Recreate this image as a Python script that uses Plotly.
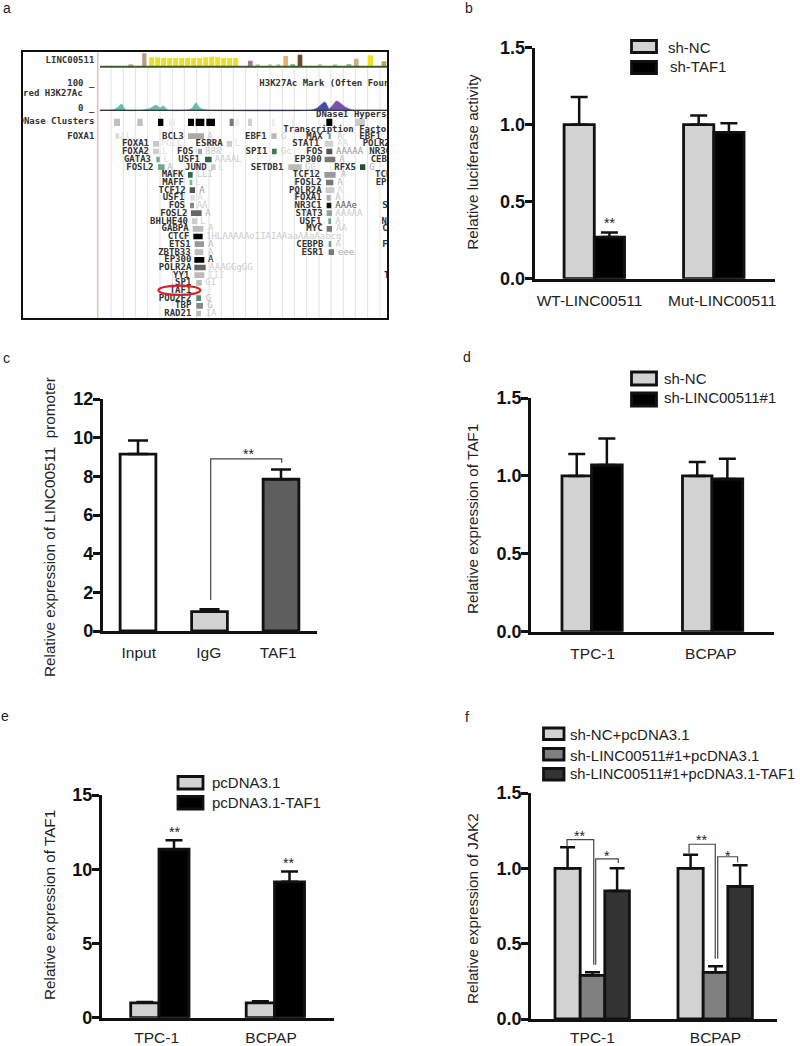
import plotly.graph_objects as go

W, H = 800, 1046
INK = "#111111"
SANS = "Liberation Sans"
MONO = "DejaVu Sans Mono"
LIGHT, BLACK, MID, DARK, GREY = "#d2d2d2", "#000000", "#808080", "#333333", "#5e5e5e"

# ---------- bar panel data ----------
b_groups = ["WT-LINC00511", "Mut-LINC00511"]
b_nc, b_nc_err = [1.0, 1.0], [0.18, 0.06]
b_taf, b_taf_err = [0.27, 0.95], [0.03, 0.06]

c_groups = ["Input", "IgG", "TAF1"]
c_vals, c_err = [9.15, 1.0, 7.85], [0.7, 0.12, 0.5]

d_groups = ["TPC-1", "BCPAP"]
d_nc, d_nc_err = [1.0, 1.0], [0.14, 0.09]
d_sh, d_sh_err = [1.07, 0.98], [0.17, 0.13]

e_groups = ["TPC-1", "BCPAP"]
e_pc, e_pc_err = [1.0, 1.0], [0.05, 0.1]
e_taf, e_taf_err = [11.35, 9.15], [0.6, 0.7]

f_groups = ["TPC-1", "BCPAP"]
f_a, f_a_err = [1.0, 1.0], [0.14, 0.09]
f_b, f_b_err = [0.29, 0.31], [0.02, 0.04]
f_c, f_c_err = [0.85, 0.88], [0.15, 0.14]

# significance brackets (x in group units, y in axis units)
c_br_x, c_br_y = [1.017, 1.017, 2.01, 2.01], [1.6, 8.9, 8.9, 8.7]
f_br1_x, f_br1_y = [-0.207, -0.207, 0.01, 0.01], [1.145, 1.19, 1.19, 0.36]
f_br2_x, f_br2_y = [0.026, 0.026, 0.21, 0.21], [0.36, 1.063, 1.063, 1.035]
f_br3_x, f_br3_y = [0.785, 0.785, 0.998, 0.998], [1.10, 1.16, 1.16, 0.40]
f_br4_x, f_br4_y = [1.018, 1.018, 1.18, 1.18], [0.40, 1.077, 1.077, 1.04]

# ---------- genome browser panel data (axis spans the frame, units of 1/3 pixel) ----------
grid_x = [333, 370, 406, 443, 480, 517, 553, 590, 627, 664, 700, 737, 773, 810, 847, 883, 920, 957, 993, 1030, 1066, 1103, 1140]

cons_x = [392, 433, 455, 473, 491, 509, 527, 545, 563, 581, 599, 617, 635, 653, 671, 689, 707, 751, 773, 810, 835, 857, 878, 900, 960, 1005, 1047, 1069, 1111, 1152]
cons_h = [4, 38, 26, 26, 24, 24, 24, 24, 24, 24, 24, 26, 28, 26, 24, 24, 24, 16, 5, 3, 5, 30, 5, 34, 4, 5, 6, 22, 32, 14]
cons_w = [14, 13, 15, 15, 15, 15, 15, 15, 15, 15, 15, 15, 15, 15, 15, 15, 15, 14, 12, 10, 12, 14, 14, 14, 12, 12, 14, 14, 16, 14]
cons_c = ["#c9a98a", "#b8a080", "#e8e02a", "#e8e02a", "#e8e02a", "#e8e02a", "#e8e02a", "#e8e02a", "#e8e02a", "#e8e02a", "#e8e02a", "#e8e02a", "#e8e02a", "#e8e02a", "#e8e02a", "#e8e02a", "#e8e02a", "#a9749a", "#a8d0a8", "#a8d0a8", "#a8d0a8", "#e8b070", "#7ab07a", "#6b4a32", "#a8d0a8", "#a8d0a8", "#90c090", "#c8b080", "#f0e020", "#c8a050"]

peak_x = [300, 340, 352, 365, 378, 420, 450, 468, 480, 490, 505, 560, 575, 588, 600, 625, 930, 950, 975, 990, 1010, 1035, 1060, 1100, 1162]
peak_teal = [331, 329, 323, 312, 331, 331, 325, 315, 323, 318, 331, 331, 325, 308, 324, 331, 331, 331, 331, 331, 331, 331, 331, 331, 331]
peak_blue = [331, 331, 331, 331, 331, 331, 331, 331, 331, 331, 331, 331, 331, 331, 331, 331, 331, 325, 306, 331, 331, 331, 331, 331, 331]
peak_purple = [331, 331, 331, 331, 331, 331, 331, 331, 331, 331, 331, 331, 331, 331, 331, 331, 331, 331, 331, 325, 303, 320, 331, 331, 331]

dnase_x = [351, 420, 482, 516, 573, 600, 632, 695, 712, 750, 820, 880, 988, 1080]
dnase_w = [18, 16, 16, 18, 18, 26, 26, 12, 12, 12, 8, 8, 18, 30]
dnase_c = ["#c0c0c0", "#c0c0c0", "#000000", "#eeeeee", "#000000", "#000000", "#000000", "#777777", "#eeeeee", "#d0d0d0", "#eeeeee", "#eeeeee", "#000000", "#cccccc"]

tf_names = ["FOXA1", "FOXA1", "FOXA2", "GATA3", "FOSL2", "BCL3", "FOS", "USF1", "JUND", "ESRRA", "MAFK", "MAFF", "TCF12", "USF1", "FOS", "FOSL2", "BHLHE40", "GABPA", "CTCF", "ETS1", "ZBTB33", "EP300", "POLR2A", "YY1", "SP1", "TAF1", "POU2F2", "TBP", "RAD21", "EBF1", "SPI1", "SETDB1", "MAX", "STAT1", "FOS", "EP300", "RFX5", "TCF12", "FOSL2", "POLR2A", "FOXA1", "NR3C1", "STAT3", "USF1", "MYC", "CEBPB", "ESR1", "EBF1"]
tf_right = [283, 447, 447, 453, 460, 551, 580, 600, 620, 668, 550, 552, 557, 553, 555, 562, 564, 566, 568, 572, 572, 574, 574, 568, 574, 574, 574, 574, 574, 800, 802, 850, 968, 958, 968, 965, 1068, 960, 965, 965, 965, 965, 968, 964, 968, 970, 970, 1143]
tf_row = [409, 432, 455, 479, 502, 409, 455, 479, 502, 432, 525, 548, 571, 594, 617, 640, 664, 687, 710, 733, 757, 780, 803, 826, 849, 872, 895, 918, 941, 409, 455, 502, 409, 432, 455, 479, 502, 525, 548, 571, 594, 617, 640, 664, 687, 733, 757, 409]
box_x = [352, 468, 468, 474, 484, 588, 600, 625, 640, 688, 571, 573, 577, 578, 576, 589, 584, 594, 594, 598, 597, 598, 600, 598, 597, 600, 596, 599, 596, 822, 823, 885, 989, 987, 988, 990, 1088, 990, 989, 990, 986, 987, 988, 989, 988, 990, 994, 1160]
box_w = [12, 18, 18, 10, 20, 48, 12, 20, 14, 16, 14, 8, 16, 14, 12, 32, 16, 32, 28, 28, 26, 30, 34, 30, 16, 10, 14, 20, 14, 16, 14, 40, 6, 26, 18, 32, 16, 34, 22, 26, 12, 14, 16, 8, 16, 8, 16, 1]
box_c = ["#dddddd", "#c8c8c8", "#cfcfcf", "#6fa890", "#6fa890", "#aaaaaa", "#aaaaaa", "#33604a", "#cccccc", "#cccccc", "#2f6a4a", "#6fc090", "#555555", "#e0e0e0", "#888888", "#666666", "#cccccc", "#bbbbbb", "#000000", "#999999", "#bbbbbb", "#000000", "#666666", "#bbbbbb", "#bbbbbb", "#eeeeee", "#4f9070", "#888888", "#bbbbbb", "#bbbbbb", "#3a7a5a", "#bbbbbb", "#5fa880", "#d0d0d0", "#555555", "#777777", "#264f3a", "#999999", "#777777", "#cccccc", "#aaaaaa", "#111111", "#8aa898", "#5fa880", "#777777", "#5fa880", "#777777", "#ffffff"]

tail_text = ["LL", "FGLL", "L", "L", "A", "A", "888", "AAAAL", "L", "L", "LLI", "L", "A", "A", "AA", "A", "L", "A", "1HLAAAAAoIIAIAAaaAAaAabcg", "A", "A", "A", "AAAGGgGG", "III", "GI", "I", "G", "G", "IA", "G", "Gc", "GG", "A", "AA", "AAAAA", "A", "G", "A", "A", "A", "A", "AAAe", "AAAAA", "A", "AA", "A", "eee"]
tail_x = [362, 482, 486, 490, 502, 622, 615, 644, 655, 704, 590, 586, 598, 592, 590, 616, 600, 624, 618, 624, 624, 624, 628, 624, 616, 622, 617, 622, 617, 842, 842, 915, 1012, 1012, 1008, 1018, 1108, 1022, 1012, 1012, 1006, 1006, 1006, 1006, 1008, 1006, 1014]
tail_c = ["#dddddd", "#dddddd", "#dddddd", "#dddddd", "#bbbbbb", "#cccccc", "#cccccc", "#cccccc", "#dddddd", "#dddddd", "#cccccc", "#dddddd", "#999999", "#dddddd", "#cccccc", "#bbbbbb", "#cccccc", "#cccccc", "#cccccc", "#bbbbbb", "#cccccc", "#111111", "#cccccc", "#dddddd", "#cccccc", "#eeeeee", "#bbbbbb", "#bbbbbb", "#cccccc", "#cccccc", "#cccccc", "#cccccc", "#cccccc", "#dddddd", "#999999", "#bbbbbb", "#aaaaaa", "#bbbbbb", "#bbbbbb", "#dddddd", "#bbbbbb", "#555555", "#cccccc", "#cccccc", "#cccccc", "#cccccc", "#aaaaaa"]

right_names = ["POLR2A", "NR3C1", "CEBPB", "TCF12", "EP300", "STAT3", "NFYB", "CTCF", "FOSL2", "TBP"]
right_x = [1088, 1108, 1112, 1125, 1127, 1147, 1145, 1147, 1147, 1152]
right_row = [432, 455, 479, 525, 548, 617, 664, 687, 733, 826]

head_left = ["Layered H3K27Ac", "DNase Clusters", "LINC00511", "100 _", "0 _"]
head_left_x = [248, 283, 283, 283, 283]
head_left_y = [282, 366, 181, 252, 325]
head_right = ["H3K27Ac Mark (Often Found", "DNaseI Hypersensitivity", "Transcription Factor"]
head_right_x = [778, 948, 850]
head_right_y = [252, 345, 389]

fig = go.Figure()
shapes, annos = [], []


def px(x):
    return x / W


def py(y):
    return 1 - y / H


def panel(idx, x0, x1, ytop, y0, ymax, dtick, c0, sp, tick_pos, tick_text, standoff=6):
    sfx = str(idx)
    lo, hi = (x0 - c0) / sp, (x1 - c0) / sp
    fig.layout[f"xaxis{sfx}"] = dict(
        domain=[px(x0), px(x1)], range=[lo, hi], anchor=f"y{sfx}", showline=True, linecolor=INK, linewidth=2.5,
        showgrid=False, zeroline=False, ticks="", tickmode="array", tickvals=tick_pos, ticktext=tick_text,
        tickfont=dict(family=SANS, size=15.5, color="#222222"), ticklabelstandoff=standoff)
    fig.layout[f"yaxis{sfx}"] = dict(
        domain=[py(y0), py(ytop)], range=[0, ymax], anchor=f"x{sfx}", showline=True, linecolor=INK, linewidth=2.5,
        showgrid=False, zeroline=False, ticks="outside", ticklen=7, tickwidth=2.5, tickcolor=INK, dtick=dtick,
        tickformat=".1f" if dtick < 1 else "d",
        tickfont=dict(family=SANS, size=18, color=INK, weight="bold"), ticklabelstandoff=-4)


def bars(idx, xs, ys, errs, color, width, offset, cap=8.5):
    fig.add_trace(go.Bar(
        x=xs, y=ys, width=width, offset=offset, marker=dict(color=color, line=dict(color=INK, width=2.8)),
        error_y=dict(type="data", array=errs, arrayminus=[0] * len(errs), symmetric=False, color=INK, thickness=2.5, width=cap),
        xaxis=f"x{idx}", yaxis=f"y{idx}", showlegend=False, hoverinfo="skip"))


def bracket(idx, xs, ys):
    fig.add_trace(go.Scatter(x=xs, y=ys, mode="lines", line=dict(color="#444444", width=1.2),
                             xaxis=f"x{idx}", yaxis=f"y{idx}", showlegend=False, hoverinfo="skip"))


def ytitle(text, x, y, size=15.25):
    annos.append(dict(text=text, x=px(x), y=py(y), xref="paper", yref="paper", textangle=-90, showarrow=False,
                      xanchor="center", yanchor="middle", font=dict(family=SANS, size=size, color="#222222")))


def label(text, x, y, size=15, anchor="left", color="#222222"):
    annos.append(dict(text=text, x=px(x), y=py(y), xref="paper", yref="paper", showarrow=False, xanchor=anchor,
                      yanchor="middle", font=dict(family=SANS, size=size, color=color)))


def stars(text, x, y):
    label(text, x, y + 3, size=14, anchor="center", color="#222222")


def swatch(x0, x1, y0, y1, color):
    shapes.append(dict(type="rect", xref="paper", yref="paper", x0=px(x0), x1=px(x1), y0=py(y0), y1=py(y1),
                       fillcolor=color, line=dict(color=INK, width=2.8)))


# Panel a: genome browser
fig.layout["xaxis1"] = dict(domain=[px(22.7), px(387.3)], range=[68, 1162], anchor="y1", showgrid=False, zeroline=False,
                            showticklabels=False, ticks="", showline=True, mirror=True, linecolor="#111111", linewidth=1.5)
fig.layout["yaxis1"] = dict(domain=[py(318.3), py(52.3)], range=[955, 157], anchor="x1", showgrid=False, zeroline=False,
                            showticklabels=False, ticks="", showline=True, mirror=True, linecolor="#111111", linewidth=1.5)

for gx in grid_x:
    shapes.append(dict(type="line", xref="x1", yref="y1", x0=gx, x1=gx, y0=205, y1=955, line=dict(color="#e2e2e2", width=1), layer="below"))
shapes.append(dict(type="line", xref="x1", yref="y1", x0=293, x1=293, y0=157, y1=955, line=dict(color="#f2b8b8", width=1.5), layer="below"))

fig.add_trace(go.Bar(x=cons_x, y=[-h for h in cons_h], base=198, width=cons_w, marker=dict(color=cons_c, line=dict(width=0)),
                     xaxis="x1", yaxis="y1", showlegend=False, hoverinfo="skip"))
fig.add_trace(go.Scatter(x=[300, 1162], y=[200, 200], mode="lines", line=dict(color="#3d5a2a", width=2),
                         xaxis="x1", yaxis="y1", showlegend=False, hoverinfo="skip"))
for series, col in ((peak_teal, "#69c0aa"), (peak_blue, "#3f4fa8"), (peak_purple, "#7a50b0")):
    fig.add_trace(go.Scatter(x=peak_x, y=series, mode="lines", fill="toself", fillcolor=col,
                             line=dict(color=col, width=0.5, shape="spline", smoothing=0.6),
                             xaxis="x1", yaxis="y1", showlegend=False, hoverinfo="skip"))
fig.add_trace(go.Scatter(x=[300, 1162], y=[331, 331], mode="lines", line=dict(color="#222222", width=1),
                         xaxis="x1", yaxis="y1", showlegend=False, hoverinfo="skip"))
fig.add_trace(go.Bar(x=dnase_x, y=[-22] * len(dnase_x), base=378, width=dnase_w, marker=dict(color=dnase_c, line=dict(width=0)),
                     xaxis="x1", yaxis="y1", showlegend=False, hoverinfo="skip"))
fig.add_trace(go.Bar(x=box_x, y=[-17] * len(box_x), base=[r + 8 for r in tf_row], width=box_w, marker=dict(color=box_c, line=dict(width=0)),
                     xaxis="x1", yaxis="y1", showlegend=False, hoverinfo="skip"))
MF = dict(family=MONO, size=9, color="#333333", weight="bold")
fig.add_trace(go.Scatter(x=tf_right, y=tf_row, text=tf_names, mode="text", textposition="middle left", textfont=MF,
                         xaxis="x1", yaxis="y1", showlegend=False, hoverinfo="skip"))
fig.add_trace(go.Scatter(x=tail_x, y=tf_row[:len(tail_x)], text=tail_text, mode="text", textposition="middle right",
                         textfont=dict(family=MONO, size=9, color=tail_c), xaxis="x1", yaxis="y1", showlegend=False, hoverinfo="skip"))
fig.add_trace(go.Scatter(x=right_x, y=right_row, text=right_names, mode="text", textposition="middle right", textfont=MF,
                         xaxis="x1", yaxis="y1", showlegend=False, hoverinfo="skip"))
fig.add_trace(go.Scatter(x=head_left_x, y=head_left_y, text=head_left, mode="text", textposition="middle left", textfont=MF,
                         xaxis="x1", yaxis="y1", showlegend=False, hoverinfo="skip"))
fig.add_trace(go.Scatter(x=head_right_x, y=head_right_y, text=head_right, mode="text", textposition="middle right", textfont=MF,
                         xaxis="x1", yaxis="y1", showlegend=False, hoverinfo="skip"))
shapes.append(dict(type="circle", xref="x1", yref="y1", x0=475, x1=601, y0=857, y1=885, line=dict(color="#d4202a", width=2.2)))

# Panel b
panel(2, 534.5, 775, 47.7, 278.7, 1.5, 0.5, 594.3, 119.5, [-0.04, 1.07], b_groups)
pos = [0, 1]
bars(2, pos, b_nc, b_nc_err, LIGHT, 0.253, -0.253)
bars(2, pos, b_taf, b_taf_err, BLACK, 0.253, 0)
ytitle("Relative luciferase activity", 472.7, 162)
swatch(631.5, 656.5, 40.5, 52.5, LIGHT)
swatch(631.5, 656.5, 61.5, 73.5, BLACK)
label("sh-NC", 666, 47)
label("sh-TAF1", 667.5, 67)
stars("**", 609.5, 220)

# Panel c
panel(3, 102.7, 317, 399, 631, 12, 2, 138, 71.5, [0.01, 0.99, 1.96], c_groups)
bars(3, [0, 1, 2], c_vals, c_err, ["#ffffff", LIGHT, GREY], 0.5, -0.25, cap=10)
bracket(3, c_br_x, c_br_y)
ytitle("Relative expression of LINC00511  promoter", 49, 527)
stars("**", 248, 451)

# Panel d
panel(4, 531, 774, 398, 631.7, 1.5, 0.5, 591.5, 120.5, [0.01, 0.99], d_groups)
bars(4, pos, d_nc, d_nc_err, LIGHT, 0.245, -0.245)
bars(4, pos, d_sh, d_sh_err, BLACK, 0.255, 0)
ytitle("Relative expression of TAF1", 472, 519)
swatch(631.5, 656.5, 372, 385, LIGHT)
swatch(631.5, 656.5, 393, 406, BLACK)
label("sh-NC", 662, 378.5)
label("sh-LINC00511#1", 662, 398)

# Panel e
panel(5, 101.7, 334, 795, 1017.7, 15, 5, 159, 115.5, [-0.02, 0.97], e_groups, standoff=4)
bars(5, pos, e_pc, e_pc_err, LIGHT, 0.245, -0.245)
bars(5, pos, e_taf, e_taf_err, BLACK, 0.26, 0)
ytitle("Relative expression of TAF1", 49, 905)
swatch(178, 203, 776.5, 789, LIGHT)
swatch(178, 203, 796.5, 809, BLACK)
label("pcDNA3.1", 210, 782)
label("pcDNA3.1-TAF1", 210, 802)
stars("**", 174, 829)
stars("**", 288, 860)

# Panel f
panel(6, 531, 777, 793, 1019, 1.5, 0.5, 592.5, 123, [0, 1.0], f_groups, standoff=3)
bars(6, pos, f_a, f_a_err, LIGHT, 0.205, -0.305, cap=7.5)
bars(6, pos, f_b, f_b_err, MID, 0.2, -0.1, cap=7.5)
bars(6, pos, f_c, f_c_err, DARK, 0.2, 0.1, cap=7.5)
for xs, ys in ((f_br1_x, f_br1_y), (f_br2_x, f_br2_y), (f_br3_x, f_br3_y), (f_br4_x, f_br4_y)):
    bracket(6, xs, ys)
ytitle("Relative expression of JAK2", 472, 909)
swatch(543.5, 564, 728, 739.5, LIGHT)
swatch(543.5, 564, 748.5, 760, MID)
swatch(543.5, 564, 768.5, 780, DARK)
label("sh-NC+pcDNA3.1", 568, 734)
label("sh-LINC00511#1+pcDNA3.1", 568, 755)
label("sh-LINC00511#1+pcDNA3.1-TAF1", 568, 774, size=14.7)
stars("**", 579, 832.7)
stars("*", 606.7, 853)
stars("**", 701.7, 837)
stars("*", 728, 852.7)

# panel letters
for letter, lx, ly in (("a", 7, 8), ("b", 469, 8), ("c", 6, 358), ("d", 467, 357), ("e", 5, 716), ("f", 467, 717)):
    label(letter, lx, ly, size=14, anchor="center", color="#222222")

fig.update_layout(width=W, height=H, margin=dict(l=0, r=0, t=0, b=0, autoexpand=False), autosize=False, paper_bgcolor="white",
                  plot_bgcolor="white", barmode="overlay", showlegend=False, shapes=shapes, annotations=annos)
fig.write_html("out.html", post_script="document.body.style.margin='0';document.body.style.overflow='hidden';",
               config={"displayModeBar": False})
